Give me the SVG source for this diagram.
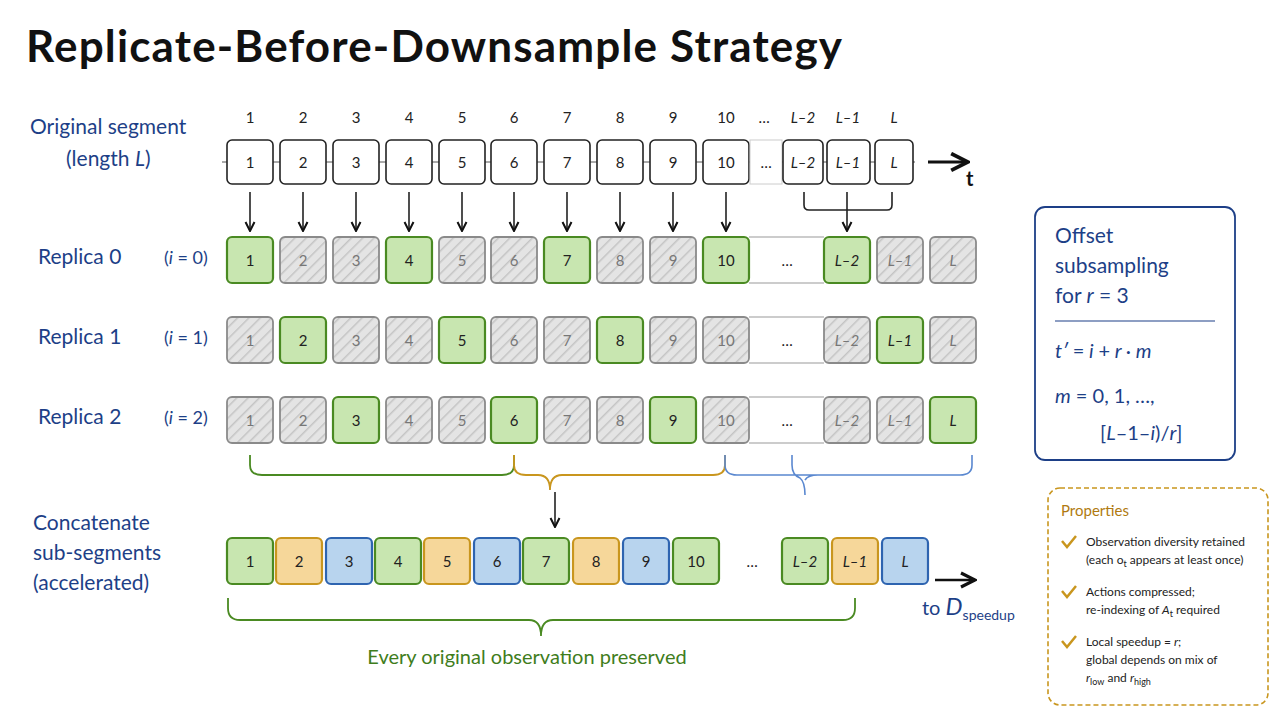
<svg xmlns="http://www.w3.org/2000/svg" width="1280" height="720" viewBox="0 0 1280 720">
<defs>
<pattern id="hatch" width="8" height="8" patternUnits="userSpaceOnUse" patternTransform="rotate(45)">
<rect width="8" height="8" fill="#e4e4e4"/><line x1="0" y1="0" x2="0" y2="8" stroke="#c4c4c4" stroke-width="3"/>
</pattern>
<marker id="ah" viewBox="0 0 10 10" refX="9" refY="5" markerWidth="7" markerHeight="7" orient="auto"><path d="M1,1 L9,5 L1,9" fill="none" stroke="#111" stroke-width="1.8"/></marker>
</defs>
<style>
text{font-family:Lato,"Noto Sans",sans-serif;}
.n{font-size:15px;fill:#222;text-anchor:middle;}
.w{fill:#fff;stroke:#222;stroke-width:1.6;}
.g{fill:#c8e6b0;stroke:#4a8a22;stroke-width:2.2;}
.h{fill:url(#hatch);stroke:#8a8a8a;stroke-width:1.8;}
.y{fill:#f6d79a;stroke:#c9961e;stroke-width:2.2;}
.b{fill:#b8d4ee;stroke:#2e64b0;stroke-width:2.2;}
.hn{font-size:15px;fill:#777;text-anchor:middle;}
.lab{font-size:21px;fill:#1d3f87;}
.con{fill:none;stroke:#222;stroke-width:1.6;}
</style>
<rect width="1280" height="720" fill="#fff"/>
<text x="26" y="62" font-size="44" font-weight="bold" fill="#111" textLength="816">Replicate-Before-Downsample Strategy</text>

<g id="labels">
<text x="30" y="134" class="lab">Original segment</text>
<text x="66" y="166" class="lab">(length <tspan font-style="italic">L</tspan>)</text>
<text x="38" y="264" class="lab">Replica 0</text><text x="164" y="264" font-size="18" fill="#1d3f87">(<tspan font-style="italic">i</tspan> = 0)</text>
<text x="38" y="344" class="lab">Replica 1</text><text x="164" y="344" font-size="18" fill="#1d3f87">(<tspan font-style="italic">i</tspan> = 1)</text>
<text x="38" y="424" class="lab">Replica 2</text><text x="164" y="424" font-size="18" fill="#1d3f87">(<tspan font-style="italic">i</tspan> = 2)</text>
<text x="33" y="530" class="lab">Concatenate</text>
<text x="33" y="560" class="lab">sub-segments</text>
<text x="33" y="590" class="lab">(accelerated)</text>
</g>

<g id="index-row" class="n">
<text x="250" y="123">1</text><text x="303" y="123">2</text><text x="356" y="123">3</text><text x="409" y="123">4</text><text x="462" y="123">5</text><text x="514" y="123">6</text><text x="567" y="123">7</text><text x="620" y="123">8</text><text x="673" y="123">9</text><text x="726" y="123">10</text><text x="764" y="123">…</text><text x="803" y="123" font-style="italic">L–2</text><text x="848" y="123" font-style="italic">L–1</text><text x="894" y="123" font-style="italic">L</text>
</g>

<g id="original">
<line x1="222" y1="162" x2="915" y2="162" stroke="#555" stroke-width="1"/>
<rect class="w" x="227" y="140" width="46" height="44" rx="5"/><text class="n" x="250" y="168">1</text>
<rect class="w" x="280" y="140" width="46" height="44" rx="5"/><text class="n" x="303" y="168">2</text>
<rect class="w" x="333" y="140" width="46" height="44" rx="5"/><text class="n" x="356" y="168">3</text>
<rect class="w" x="386" y="140" width="46" height="44" rx="5"/><text class="n" x="409" y="168">4</text>
<rect class="w" x="439" y="140" width="46" height="44" rx="5"/><text class="n" x="462" y="168">5</text>
<rect class="w" x="491" y="140" width="46" height="44" rx="5"/><text class="n" x="514" y="168">6</text>
<rect class="w" x="544" y="140" width="46" height="44" rx="5"/><text class="n" x="567" y="168">7</text>
<rect class="w" x="597" y="140" width="46" height="44" rx="5"/><text class="n" x="620" y="168">8</text>
<rect class="w" x="650" y="140" width="46" height="44" rx="5"/><text class="n" x="673" y="168">9</text>
<rect class="w" x="703" y="140" width="46" height="44" rx="5"/><text class="n" x="726" y="168">10</text>
<rect x="750" y="140" width="32" height="44" fill="#fff" stroke="#ccc" stroke-width="1"/><text class="n" x="766" y="168">…</text>
<rect class="w" x="783" y="140" width="40" height="44" rx="5"/><text class="n" x="803" y="168" font-style="italic">L–2</text>
<rect class="w" x="827" y="140" width="43" height="44" rx="5"/><text class="n" x="848" y="168" font-style="italic">L–1</text>
<rect class="w" x="875" y="140" width="38" height="44" rx="5"/><text class="n" x="894" y="168" font-style="italic">L</text>
<line x1="928" y1="162" x2="968" y2="162" stroke="#111" stroke-width="3" marker-end="url(#ah)"/>
<text x="966" y="186" font-size="20" font-weight="bold" fill="#111">t</text>
</g>

<g id="connectors">
<line class="con" x1="250" y1="192" x2="250" y2="231" marker-end="url(#ah)"/>
<line class="con" x1="303" y1="192" x2="303" y2="231" marker-end="url(#ah)"/>
<line class="con" x1="356" y1="192" x2="356" y2="231" marker-end="url(#ah)"/>
<line class="con" x1="409" y1="192" x2="409" y2="231" marker-end="url(#ah)"/>
<line class="con" x1="462" y1="192" x2="462" y2="231" marker-end="url(#ah)"/>
<line class="con" x1="514" y1="192" x2="514" y2="231" marker-end="url(#ah)"/>
<line class="con" x1="567" y1="192" x2="567" y2="231" marker-end="url(#ah)"/>
<line class="con" x1="620" y1="192" x2="620" y2="231" marker-end="url(#ah)"/>
<line class="con" x1="673" y1="192" x2="673" y2="231" stroke-width="1.2" marker-end="url(#ah)"/>
<line class="con" x1="726" y1="192" x2="726" y2="231" marker-end="url(#ah)"/>
<path class="con" d="M804,192 V205 Q804,210 809,210 H887 Q892,210 892,205 V192 M847,192 V231" marker-end="url(#ah)"/>
<path d="M250,455 V465 Q250,475 262,475 H502 Q514,475 514,465 V455" fill="none" stroke="#4a8a22" stroke-width="1.8"/>
<path d="M514,455 V465 Q514,475 526,475 H538 Q550,475 550,490 M550,490 Q550,475 562,475 H713 Q725,475 725,465 V455" fill="none" stroke="#c9961e" stroke-width="1.8"/>
<path d="M725,455 V465 Q725,475 737,475 H960 Q972,475 972,465 V455 M792,455 V465 Q792,475 800,478 Q805,482 805,495 M805,480 Q808,475 818,475" fill="none" stroke="#5a88d0" stroke-width="1.6"/>
<line class="con" x1="555" y1="492" x2="555" y2="527" stroke-width="2" marker-end="url(#ah)"/>
<line x1="935" y1="580" x2="975" y2="580" stroke="#111" stroke-width="2.5" marker-end="url(#ah)"/>
<path d="M228,598 V608 Q228,620 240,620 H529 Q541,620 541,636 Q541,620 553,620 H843 Q855,620 855,608 V598" fill="none" stroke="#4a8a22" stroke-width="1.8"/>
</g>

<g id="replica0">
<line x1="749" y1="237" x2="824" y2="237" stroke="#999" stroke-width="1.2"/><line x1="749" y1="283" x2="824" y2="283" stroke="#999" stroke-width="1.2"/>
<rect class="g" x="227" y="237" width="46" height="46" rx="5"/><text class="n" x="250" y="266">1</text>
<rect class="h" x="280" y="237" width="46" height="46" rx="5"/><text class="hn" x="303" y="266">2</text>
<rect class="h" x="333" y="237" width="46" height="46" rx="5"/><text class="hn" x="356" y="266">3</text>
<rect class="g" x="386" y="237" width="46" height="46" rx="5"/><text class="n" x="409" y="266">4</text>
<rect class="h" x="439" y="237" width="46" height="46" rx="5"/><text class="hn" x="462" y="266">5</text>
<rect class="h" x="491" y="237" width="46" height="46" rx="5"/><text class="hn" x="514" y="266">6</text>
<rect class="g" x="544" y="237" width="46" height="46" rx="5"/><text class="n" x="567" y="266">7</text>
<rect class="h" x="597" y="237" width="46" height="46" rx="5"/><text class="hn" x="620" y="266">8</text>
<rect class="h" x="650" y="237" width="46" height="46" rx="5"/><text class="hn" x="673" y="266">9</text>
<rect class="g" x="703" y="237" width="46" height="46" rx="5"/><text class="n" x="726" y="266">10</text>
<text class="n" x="787" y="266">…</text>
<rect class="g" x="824" y="237" width="46" height="46" rx="5"/><text class="n" x="847" y="266" font-style="italic">L–2</text>
<rect class="h" x="877" y="237" width="46" height="46" rx="5"/><text class="hn" x="900" y="266" font-style="italic">L–1</text>
<rect class="h" x="930" y="237" width="46" height="46" rx="5"/><text class="hn" x="953" y="266" font-style="italic">L</text>
</g>

<g id="replica1">
<line x1="749" y1="317" x2="824" y2="317" stroke="#999" stroke-width="1.2"/><line x1="749" y1="363" x2="824" y2="363" stroke="#999" stroke-width="1.2"/>
<rect class="h" x="227" y="317" width="46" height="46" rx="5"/><text class="hn" x="250" y="346">1</text>
<rect class="g" x="280" y="317" width="46" height="46" rx="5"/><text class="n" x="303" y="346">2</text>
<rect class="h" x="333" y="317" width="46" height="46" rx="5"/><text class="hn" x="356" y="346">3</text>
<rect class="h" x="386" y="317" width="46" height="46" rx="5"/><text class="hn" x="409" y="346">4</text>
<rect class="g" x="439" y="317" width="46" height="46" rx="5"/><text class="n" x="462" y="346">5</text>
<rect class="h" x="491" y="317" width="46" height="46" rx="5"/><text class="hn" x="514" y="346">6</text>
<rect class="h" x="544" y="317" width="46" height="46" rx="5"/><text class="hn" x="567" y="346">7</text>
<rect class="g" x="597" y="317" width="46" height="46" rx="5"/><text class="n" x="620" y="346">8</text>
<rect class="h" x="650" y="317" width="46" height="46" rx="5"/><text class="hn" x="673" y="346">9</text>
<rect class="h" x="703" y="317" width="46" height="46" rx="5"/><text class="hn" x="726" y="346">10</text>
<text class="n" x="787" y="346">…</text>
<rect class="h" x="824" y="317" width="46" height="46" rx="5"/><text class="hn" x="847" y="346" font-style="italic">L–2</text>
<rect class="g" x="877" y="317" width="46" height="46" rx="5"/><text class="n" x="900" y="346" font-style="italic">L–1</text>
<rect class="h" x="930" y="317" width="46" height="46" rx="5"/><text class="hn" x="953" y="346" font-style="italic">L</text>
</g>

<g id="replica2">
<line x1="749" y1="397" x2="824" y2="397" stroke="#999" stroke-width="1.2"/><line x1="749" y1="443" x2="824" y2="443" stroke="#999" stroke-width="1.2"/>
<rect class="h" x="227" y="397" width="46" height="46" rx="5"/><text class="hn" x="250" y="426">1</text>
<rect class="h" x="280" y="397" width="46" height="46" rx="5"/><text class="hn" x="303" y="426">2</text>
<rect class="g" x="333" y="397" width="46" height="46" rx="5"/><text class="n" x="356" y="426">3</text>
<rect class="h" x="386" y="397" width="46" height="46" rx="5"/><text class="hn" x="409" y="426">4</text>
<rect class="h" x="439" y="397" width="46" height="46" rx="5"/><text class="hn" x="462" y="426">5</text>
<rect class="g" x="491" y="397" width="46" height="46" rx="5"/><text class="n" x="514" y="426">6</text>
<rect class="h" x="544" y="397" width="46" height="46" rx="5"/><text class="hn" x="567" y="426">7</text>
<rect class="h" x="597" y="397" width="46" height="46" rx="5"/><text class="hn" x="620" y="426">8</text>
<rect class="g" x="650" y="397" width="46" height="46" rx="5"/><text class="n" x="673" y="426">9</text>
<rect class="h" x="703" y="397" width="46" height="46" rx="5"/><text class="hn" x="726" y="426">10</text>
<text class="n" x="787" y="426">…</text>
<rect class="h" x="824" y="397" width="46" height="46" rx="5"/><text class="hn" x="847" y="426" font-style="italic">L–2</text>
<rect class="h" x="877" y="397" width="46" height="46" rx="5"/><text class="hn" x="900" y="426" font-style="italic">L–1</text>
<rect class="g" x="930" y="397" width="46" height="46" rx="5"/><text class="n" x="953" y="426" font-style="italic">L</text>
</g>

<g id="concat">
<rect class="g" x="227" y="538" width="46" height="46" rx="5"/><text class="n" x="250" y="567">1</text>
<rect class="y" x="276" y="538" width="46" height="46" rx="5"/><text class="n" x="299" y="567">2</text>
<rect class="b" x="326" y="538" width="46" height="46" rx="5"/><text class="n" x="349" y="567">3</text>
<rect class="g" x="375" y="538" width="46" height="46" rx="5"/><text class="n" x="398" y="567">4</text>
<rect class="y" x="424" y="538" width="46" height="46" rx="5"/><text class="n" x="447" y="567">5</text>
<rect class="b" x="474" y="538" width="46" height="46" rx="5"/><text class="n" x="497" y="567">6</text>
<rect class="g" x="523" y="538" width="46" height="46" rx="5"/><text class="n" x="546" y="567">7</text>
<rect class="y" x="573" y="538" width="46" height="46" rx="5"/><text class="n" x="596" y="567">8</text>
<rect class="b" x="623" y="538" width="46" height="46" rx="5"/><text class="n" x="646" y="567">9</text>
<rect class="g" x="673" y="538" width="46" height="46" rx="5"/><text class="n" x="696" y="567">10</text>
<text class="n" x="752" y="567">…</text>
<rect class="g" x="782" y="538" width="46" height="46" rx="5"/><text class="n" x="805" y="567" font-style="italic">L–2</text>
<rect class="y" x="832" y="538" width="46" height="46" rx="5"/><text class="n" x="855" y="567" font-style="italic">L–1</text>
<rect class="b" x="882" y="538" width="46" height="46" rx="5"/><text class="n" x="905" y="567" font-style="italic">L</text>
<text x="922" y="615" font-size="20" fill="#1d3f87">to <tspan font-size="24" font-style="italic">D</tspan><tspan font-size="14" dy="5">speedup</tspan></text>
<text x="527" y="664" font-size="20" fill="#3f7d1c" text-anchor="middle">Every original observation preserved</text>
</g>

<g id="offset-box">
<rect x="1035" y="207" width="200" height="253" rx="10" fill="#fff" stroke="#1d3f87" stroke-width="1.8"/>
<text x="1055" y="243" font-size="21" fill="#1d3f87">Offset</text>
<text x="1055" y="273" font-size="21" fill="#1d3f87">subsampling</text>
<text x="1055" y="303" font-size="21" fill="#1d3f87">for <tspan font-style="italic">r</tspan> = 3</text>
<line x1="1055" y1="321" x2="1215" y2="321" stroke="#1d3f87" stroke-width="1.2"/>
<text x="1055" y="358" font-size="20" fill="#1d3f87" font-style="italic">t′ <tspan font-style="normal">=</tspan> i <tspan font-style="normal">+</tspan> r <tspan font-style="normal">·</tspan> m</text>
<text x="1055" y="403" font-size="20" fill="#1d3f87"><tspan font-style="italic">m</tspan> = 0, 1, …,</text>
<text x="1100" y="440" font-size="20" fill="#1d3f87">[<tspan font-style="italic">L</tspan>–1–<tspan font-style="italic">i</tspan>)/<tspan font-style="italic">r</tspan>]</text>
</g>

<g id="properties">
<rect x="1048" y="488" width="220" height="217" rx="12" fill="#fff" stroke="#c9961e" stroke-width="1.6" stroke-dasharray="5 3"/>
<text x="1061" y="516" font-size="15" fill="#b07a10">Properties</text>
<g fill="none" stroke="#c9961e" stroke-width="2.5"><path d="M1062,541 l5,6 l9,-11"/><path d="M1062,591 l5,6 l9,-11"/><path d="M1062,641 l5,6 l9,-11"/></g>
<g font-size="12" fill="#222">
<text x="1086" y="546">Observation diversity retained</text>
<text x="1086" y="564">(each o<tspan font-size="9" dy="3">t</tspan><tspan dy="-3"> appears at least once)</tspan></text>
<text x="1086" y="596">Actions compressed;</text>
<text x="1086" y="614">re-indexing of <tspan font-style="italic">A</tspan><tspan font-size="9" dy="3">t</tspan><tspan dy="-3"> required</tspan></text>
<text x="1086" y="646">Local speedup = <tspan font-style="italic">r</tspan>;</text>
<text x="1086" y="664">global depends on mix of</text>
<text x="1086" y="682"><tspan font-style="italic">r</tspan><tspan font-size="9" dy="3">low</tspan><tspan dy="-3"> and </tspan><tspan font-style="italic">r</tspan><tspan font-size="9" dy="3">high</tspan></text>
</g>
</g>
</svg>
